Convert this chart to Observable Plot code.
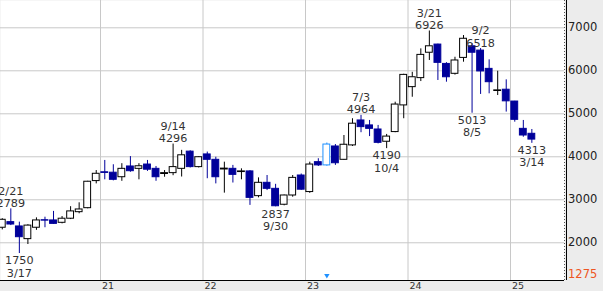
<!DOCTYPE html>
<html><head><meta charset="utf-8">
<script src="https://cdn.jsdelivr.net/npm/d3@7"></script>
<script src="https://cdn.jsdelivr.net/npm/@observablehq/plot@0.6"></script>
<style>
html,body{margin:0;padding:0;background:#fff;}
#chart svg{display:block;}
</style></head><body><div id="chart"></div>
<script>
// Monthly candles
const months = [
 "2020-01","2020-02","2020-03","2020-04","2020-05","2020-06","2020-07","2020-08","2020-09","2020-10","2020-11","2020-12",
 "2021-01","2021-02","2021-03","2021-04","2021-05","2021-06","2021-07","2021-08","2021-09","2021-10","2021-11","2021-12",
 "2022-01","2022-02","2022-03","2022-04","2022-05","2022-06","2022-07","2022-08","2022-09","2022-10","2022-11","2022-12",
 "2023-01","2023-02","2023-03","2023-04","2023-05","2023-06","2023-07","2023-08","2023-09","2023-10","2023-11","2023-12",
 "2024-01","2024-02","2024-03","2024-04","2024-05","2024-06","2024-07","2024-08","2024-09","2024-10","2024-11","2024-12",
 "2025-01","2025-02","2025-03"];
const open = [
 2350,2480,2380,2085,2350,2525,2520,2465,2560,2712,2805,3435,
 3640,3630,3525,3775,3720,3820,3720,3600,3620,3720,4120,3760,
 4055,3930,3705,3720,3645,3660,3085,3395,3255,2885,3100,3565,
 3180,3875,3800,4240,3930,4265,4845,4730,4635,4350,4575,5195,
 5620,5830,6420,6610,6160,5930,6300,6570,6470,6045,5530,5560,
 5285,4650,4535];
const high = [
 2560,2789,2480,2420,2580,2595,2730,2610,2840,2930,3430,3680,
 3915,3815,3840,4005,3840,3915,3775,3680,4296,4150,4140,4000,
 4110,3990,3875,3800,3720,3680,3510,3565,3360,3110,3565,3600,
 3875,3955,4320,4285,4495,4885,4964,4845,4730,4520,5270,5920,
 5965,6510,6926,6620,6190,6315,6820,6630,6518,6255,5990,5790,
 5290,4845,4635];
const low = [
 2300,2400,1750,1960,2290,2350,2430,2440,2540,2675,2790,3370,
 3465,3440,3430,3640,3465,3660,3430,3525,3560,3530,3740,3740,
 3490,3370,3155,3390,3465,2870,3045,3215,2837,2860,3060,3220,
 3150,3775,3780,3800,3920,4240,4560,4470,4300,4190,4560,4885,
 5385,5750,6240,5775,5735,5900,6200,5013,5450,5465,5425,5040,
 4805,4455,4313];
const close = [
 2535,2425,2130,2400,2520,2515,2440,2560,2730,2775,3420,3605,
 3625,3465,3720,3665,3780,3700,3525,3620,3760,4035,3760,3990,
 3930,3525,3725,3580,3660,3045,3395,3255,2850,3100,3510,3235,
 3820,3800,4285,3850,4280,4770,4690,4650,4325,4470,5215,5905,
 5850,6370,6570,6185,5850,6240,6745,6420,5985,5735,5545,5290,
 4860,4495,4400];

// Annotations of highs / lows
const labelMonths = ["2020-02","2020-03","2021-09","2022-09","2023-07","2023-10","2024-03","2024-08","2024-09","2025-03"];
const labelDates  = ["2/21","3/17","9/14","9/30","7/3","10/4","3/21","8/5","9/2","3/14"];
const labelPrices = [2789,1750,4296,2837,4964,4190,6926,5013,6518,4313];
const labelSides  = ["high","low","high","low","high","low","high","low","high","low"];

// Axes
const priceTicks = [2000,3000,4000,5000,6000,7000];
const refPrice = 1275;
const yearStarts = ["2021-01","2022-01","2023-01","2024-01","2025-01"];
const yearLabels = ["21","22","23","24","25"];
const selectedMonth = "2023-03";

// helpers
const idx = m => { const [y, mo] = m.split("-").map(Number); return (y - 2020) * 12 + (mo - 1); };
const data = months.map((m, k) => ({i: idx(m), m, open: open[k], high: high[k], low: low[k], close: close[k]}));
const up = d => d.close >= d.open;
const BLUE = "#00009a", SEL = "#1e90ff";
const wickColor = d => d.m === selectedMonth ? SEL : (up(d) ? "#000" : BLUE);
const bodyStroke = d => d.m === selectedMonth ? SEL : (up(d) ? "#000" : BLUE);
const bodyFill = d => up(d) ? "#fff" : BLUE;

const pxPerMonth = 410 / 48;
const xDomain = [12 - 100 / pxPerMonth, 12 + 464 / pxPerMonth];
const yDomain = [1123, 7635];

const labels = labelMonths.map((m, k) => ({i: idx(m), side: labelSides[k], price: labelPrices[k],
  text: labelSides[k] === "high" ? labelDates[k] + "\n" + labelPrices[k] : labelPrices[k] + "\n" + labelDates[k]}));

const FONT = "DejaVu Sans";
const chart = Plot.plot({
  width: 603, height: 291,
  marginLeft: 0, marginRight: 39, marginTop: 0, marginBottom: 11,
  x: {type: "linear", domain: xDomain, axis: null},
  y: {domain: yDomain, axis: null},
  style: {fontFamily: FONT, background: "#ececec"},
  marks: [
    Plot.frame({fill: "white", stroke: "none"}),
    Plot.ruleY(priceTicks, {stroke: "#c8c8c8"}),
    Plot.ruleX(yearStarts, {x: d => idx(d), stroke: "#c8c8c8"}),
    Plot.ruleX([xDomain[1]], {stroke: "#555", strokeDasharray: "1,2"}),
    Plot.ruleX([xDomain[1]], {stroke: "#000", dx: 2}),
    Plot.ruleY([yDomain[0]], {stroke: "#000"}),
    // wicks
    Plot.ruleX(data, {x: d => d.i + 0.5, y1: "low", y2: "high", stroke: wickColor}),
    // bodies
    Plot.rect(data, {x1: d => d.i + 0.5 - 0.4, x2: d => d.i + 0.5 + 0.4, y1: "open", y2: "close",
      fill: bodyFill, stroke: bodyStroke}),
    // annotations
    Plot.text(labels.filter(d => d.side === "high"), {x: d => d.i + 0.5, y: "price", text: "text",
      lineAnchor: "bottom", dy: -2, fontSize: 11.2, lineHeight: 1.1, fill: "#333"}),
    Plot.text(labels.filter(d => d.side === "low"), {x: d => d.i + 0.5, y: "price", text: "text",
      lineAnchor: "top", dy: 2, fontSize: 11.2, lineHeight: 1.1, fill: "#333"}),
    // right price axis
    Plot.text(priceTicks, {x: () => xDomain[1], y: d => d, text: d => String(d), dx: 3.5,
      textAnchor: "start", fontSize: 11.5, fill: "#222"}),
    Plot.text([refPrice], {x: () => xDomain[1], y: d => d, text: d => String(d), dx: 3.5,
      textAnchor: "start", fontSize: 11.5, fill: "#ee5522"}),
    // bottom year axis
    Plot.text(yearStarts, {x: d => idx(d), y: () => yDomain[0], text: (d, k) => yearLabels[k],
      dx: 1.5, dy: 5.5, textAnchor: "start", fontSize: 9.5, fill: "#333"}),
    // selected marker
    Plot.dot([selectedMonth], {x: d => idx(d) + 0.5, frameAnchor: "bottom", dy: -5,
      symbol: "triangle", rotate: 180, r: 2, fill: SEL, stroke: "none"})
  ]
});
document.getElementById("chart").appendChild(chart);
</script>
</body></html>
